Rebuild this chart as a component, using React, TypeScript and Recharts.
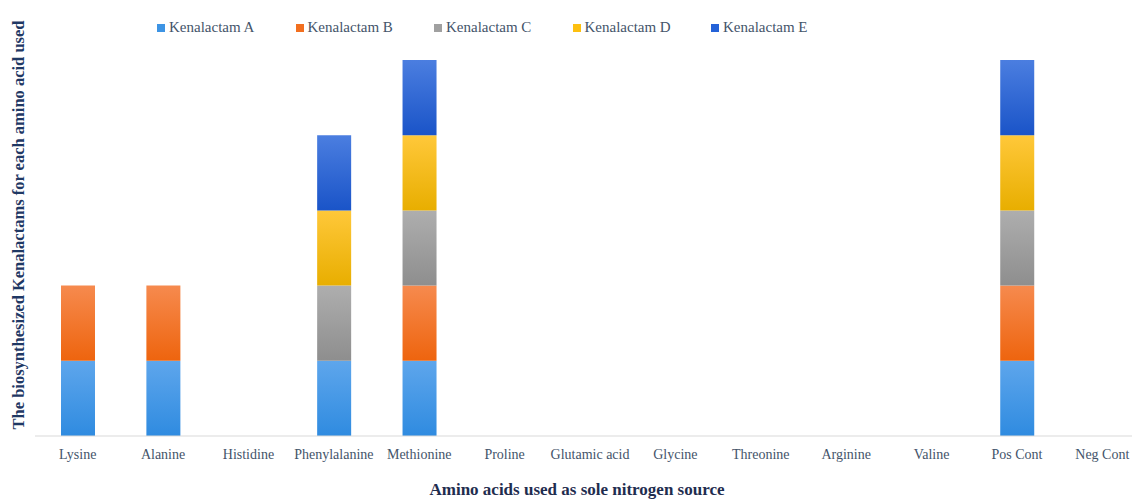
import React from 'react';
import { BarChart, Bar, XAxis, YAxis, Legend } from 'recharts';

const categories = ['Lysine', 'Alanine', 'Histidine', 'Phenylalanine', 'Methionine', 'Proline', 'Glutamic acid', 'Glycine', 'Threonine', 'Arginine', 'Valine', 'Pos Cont', 'Neg Cont'];
const kenalactamA = [1, 1, 0, 1, 1, 0, 0, 0, 0, 0, 0, 1, 0];
const kenalactamB = [1, 1, 0, 0, 1, 0, 0, 0, 0, 0, 0, 1, 0];
const kenalactamC = [0, 0, 0, 1, 1, 0, 0, 0, 0, 0, 0, 1, 0];
const kenalactamD = [0, 0, 0, 1, 1, 0, 0, 0, 0, 0, 0, 1, 0];
const kenalactamE = [0, 0, 0, 1, 1, 0, 0, 0, 0, 0, 0, 1, 0];

const seriesNames = ['Kenalactam A', 'Kenalactam B', 'Kenalactam C', 'Kenalactam D', 'Kenalactam E'];
const seriesValues = [kenalactamA, kenalactamB, kenalactamC, kenalactamD, kenalactamE];
const legendColors = ['#3d94e4', '#f26f1f', '#a0a0a0', '#fdc010', '#2462d8'];
const gradients = [
  ['#5ea6ec', '#2f8be0'],
  ['#f68a4e', '#ee640e'],
  ['#aeaeae', '#8e8e8e'],
  ['#ffc83a', '#e8ae00'],
  ['#4b7ee0', '#1a54c8'],
];

const data = categories.map((name, i) => {
  const row: Record<string, string | number> = { name };
  seriesNames.forEach((s, j) => {
    row[s] = seriesValues[j][i];
  });
  return row;
});

const FONT = '"Liberation Serif", "DejaVu Serif", serif';

const LegendContent = () => (
  <div style={{ position: 'relative', height: 20 }}>
    {seriesNames.map((s, i) => (
      <div
        key={s}
        style={{
          position: 'absolute',
          left: i * 138.5,
          top: 0,
          display: 'flex',
          alignItems: 'center',
          fontFamily: FONT,
          fontSize: 15,
          color: '#44546a',
          whiteSpace: 'nowrap',
        }}
      >
        <span style={{ display: 'inline-block', width: 8, height: 8, background: legendColors[i], marginRight: 4 }} />
        {s}
      </div>
    ))}
  </div>
);

export default function App() {
  return (
    <div style={{ position: 'fixed', left: 0, top: 0, width: 1132, height: 500, overflow: 'hidden', background: '#fff' }}>
      <BarChart
        width={1150}
        height={500}
        data={data}
        margin={{ top: 40, right: 5, left: 0, bottom: 34 }}
        barSize={34}
        style={{ display: 'block' }}
      >
        <defs>
          {gradients.map((g, i) => (
            <linearGradient key={i} id={`grad${i}`} x1="0" y1="0" x2="0" y2="1">
              <stop offset="0%" stopColor={g[0]} />
              <stop offset="100%" stopColor={g[1]} />
            </linearGradient>
          ))}
        </defs>
        <XAxis
          dataKey="name"
          interval={0}
          axisLine={{ stroke: '#d9d9d9', strokeWidth: 1 }}
          tickLine={false}
          tickMargin={7}
          tick={{ fill: '#44546a', fontSize: 14, fontFamily: FONT }}
          label={{
            content: () => (
              <text x={577} y={495} textAnchor="middle" fontFamily={FONT} fontWeight="bold" fontSize={17} fill="#1f2d4f">
                Amino acids used as sole nitrogen source
              </text>
            ),
          }}
        />
        <YAxis
          width={35}
          domain={[0, 5]}
          tick={false}
          axisLine={false}
          tickLine={false}
          label={{
            content: () => (
              <text
                x={18}
                y={225}
                transform="rotate(-90, 18, 225)"
                textAnchor="middle"
                dominantBaseline="central"
                fontFamily={FONT}
                fontWeight="bold"
                fontSize={16.5}
                fill="#1f3864"
              >
                The biosynthesized Kenalactams for each amino acid used
              </text>
            ),
          }}
        />
        <Legend
          verticalAlign="top"
          align="left"
          content={<LegendContent />}
          wrapperStyle={{ left: 157, top: 19, width: 700 }}
        />
        {seriesNames.map((s, i) => (
          <Bar key={s} dataKey={s} stackId="a" fill={`url(#grad${i})`} isAnimationActive={false} />
        ))}
      </BarChart>
    </div>
  );
}
